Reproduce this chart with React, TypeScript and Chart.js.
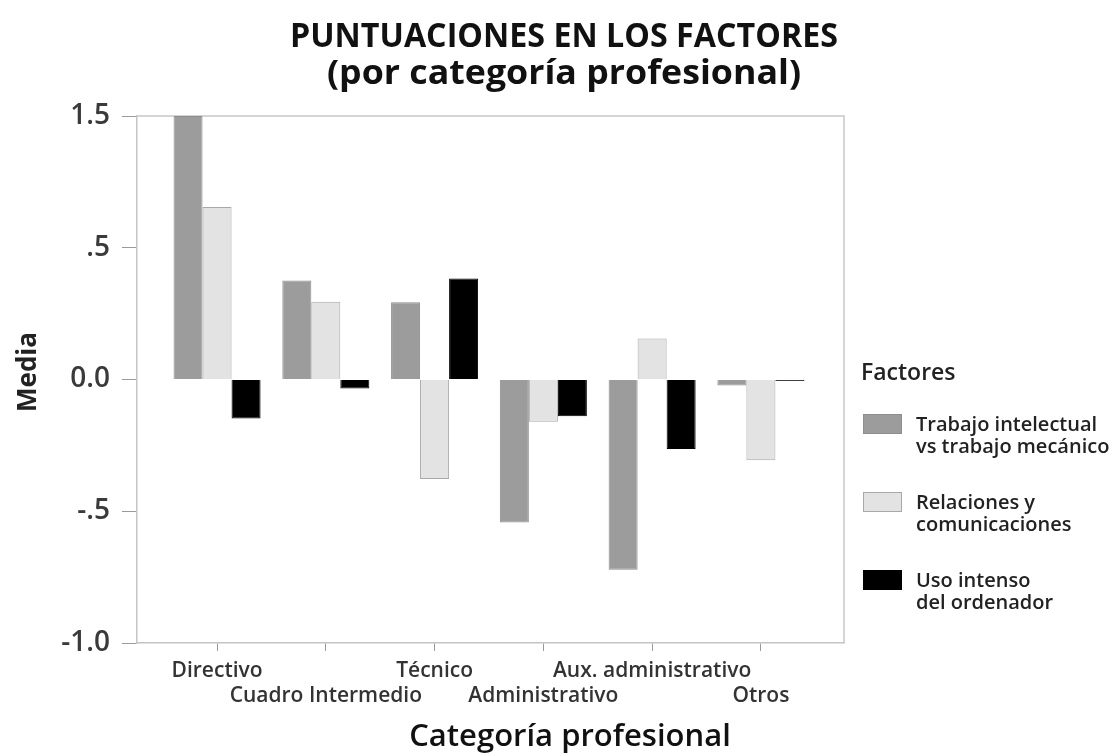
import React, { useEffect, useRef } from "react";
import { Chart, registerables } from "chart.js";

Chart.register(...registerables);

// ---- Data ----
const categories = [
  "Directivo",
  "Cuadro Intermedio",
  "Técnico",
  "Administrativo",
  "Aux. administrativo",
  "Otros",
];
const trabajoIntelectual = [1.0, 0.376, 0.293, -0.543, -0.722, -0.023];
const relacionesComunicaciones = [0.655, 0.295, -0.378, -0.16, 0.156, -0.306];
const usoOrdenador = [-0.148, -0.034, 0.383, -0.139, -0.264, -0.006];

const seriesLabels = [
  ["Trabajo intelectual", "vs trabajo mecánico"],
  ["Relaciones y", "comunicaciones"],
  ["Uso intenso", "del ordenador"],
];
const seriesColors = ["#9c9c9c", "#e3e3e3", "#000000"];
const seriesBorders = ["#8e8e8e", "#a8a8a8", "#000000"];

const yTickValues = [-1, -0.5, 0, 0.5, 1];
const yTickLabels = ["-1.0", "-.5", "0.0", ".5", "1.5"];

const titleLines = ["PUNTUACIONES EN LOS FACTORES", "(por categoría profesional)"];
const legendTitle = "Factores";
const xAxisTitle = "Categoría profesional";
const yAxisTitle = "Media";

const FONT = "'Open Sans', 'Noto Sans', sans-serif";

const textPlugin = {
  id: "customTexts",
  afterDraw(chart: any) {
    const ctx = chart.ctx;
    ctx.save();
    // chart title (condensed)
    ctx.fillStyle = "#111";
    ctx.textAlign = "center";
    ctx.textBaseline = "alphabetic";
    ctx.font = `700 34px ${FONT}`;
    const targets = [548, 474];
    const baselines = [47, 84];
    titleLines.forEach((line, i) => {
      const w = ctx.measureText(line).width;
      const sx = targets[i] / w;
      ctx.save();
      ctx.translate(564, baselines[i]);
      ctx.scale(sx, 1);
      ctx.fillText(line, 0, 0);
      ctx.restore();
    });
    // x axis title
    ctx.font = `600 31px ${FONT}`;
    ctx.fillStyle = "#111";
    ctx.textBaseline = "alphabetic";
    ctx.fillText(xAxisTitle, 570, 746);
    // y axis title
    ctx.save();
    ctx.translate(36, 372);
    ctx.rotate(-Math.PI / 2);
    ctx.font = `700 26px ${FONT}`;
    ctx.fillStyle = "#222";
    ctx.textBaseline = "alphabetic";
    ctx.fillText(yAxisTitle, 0, 0);
    ctx.restore();
    ctx.restore();
  },
};

const framePlugin = {
  id: "frame",
  beforeDatasetsDraw(chart: any) {
    const { ctx, chartArea } = chart;
    ctx.save();
    ctx.strokeStyle = "#c8c8c8";
    ctx.lineWidth = 1.5;
    ctx.beginPath();
    ctx.moveTo(chartArea.left, chartArea.top);
    ctx.lineTo(chartArea.right, chartArea.top);
    ctx.lineTo(chartArea.right, chartArea.bottom);
    ctx.stroke();
    ctx.restore();
  },
};

const legendPlugin = {
  id: "customLegend",
  afterDraw(chart: any) {
    const ctx = chart.ctx;
    const x0 = 863;
    ctx.save();
    ctx.fillStyle = "#222";
    ctx.textAlign = "left";
    ctx.textBaseline = "middle";
    ctx.font = `600 23px ${FONT}`;
    ctx.fillText(legendTitle, 861, 373);
    chart.data.datasets.forEach((ds: any, i: number) => {
      const top = 414 + i * 78;
      ctx.fillStyle = ds.backgroundColor;
      ctx.fillRect(x0, top, 39, 20);
      ctx.strokeStyle = ds.borderColor;
      ctx.lineWidth = 1;
      ctx.strokeRect(x0 + 0.5, top + 0.5, 38, 19);
      ctx.fillStyle = "#222";
      ctx.font = `600 20px ${FONT}`;
      const lines = seriesLabels[i];
      lines.forEach((ln, j) => {
        ctx.fillText(ln, 916, top + 11 + j * 22);
      });
    });
    ctx.restore();
  },
};

export default function App() {
  const ref = useRef<HTMLCanvasElement | null>(null);

  useEffect(() => {
    document.body.style.margin = "0";
    if (!ref.current) return;
    const seriesValues = [trabajoIntelectual, relacionesComunicaciones, usoOrdenador];
    const chart = new Chart(ref.current, {
      type: "bar",
      data: {
        datasets: seriesValues.map((vals, i) => ({
          label: seriesLabels[i].join(" "),
          data: vals.map((v, k) => ({ x: k, y: v })),
          backgroundColor: seriesColors[i],
          borderColor: seriesBorders[i],
          borderWidth: 1,
          categoryPercentage: 0.8,
          barPercentage: 1.0,
        })),
      },
      options: {
        animation: false,
        responsive: false,
        maintainAspectRatio: false,
        layout: { padding: { top: 116, right: 272, bottom: 0, left: 0 } },
        plugins: {
          legend: { display: false },
          title: { display: false },
          tooltip: { enabled: false },
        },
        scales: {
          x: {
            type: "linear",
            min: -0.736,
            max: 5.764,
            offset: false,
            afterBuildTicks: (scale: any) => {
              scale.ticks = categories.map((_, i) => ({ value: i }));
            },
            afterFit: (scale: any) => {
              scale.height = 113;
            },
            grid: {
              display: true,
              offset: false,
              drawOnChartArea: false,
              drawTicks: true,
              tickLength: 8,
              color: "#9a9a9a",
            },
            border: { display: true, color: "#c4c4c4", width: 1.5 },
            ticks: {
              autoSkip: false,
              maxRotation: 0,
              minRotation: 0,
              padding: 7,
              color: "#333",
              font: { family: FONT, size: 21, weight: "600" },
              callback: (value: any) => {
                const i = Math.round(Number(value));
                const lab = categories[i] ?? "";
                return i % 2 === 0 ? [lab, ""] : ["", lab];
              },
            },
            title: { display: false },
          },
          y: {
            min: -1,
            max: 1,
            afterBuildTicks: (scale: any) => {
              scale.ticks = yTickValues.map((v) => ({ value: v }));
            },
            afterFit: (scale: any) => {
              scale.width = 137;
            },
            grid: {
              display: true,
              drawOnChartArea: false,
              drawTicks: true,
              tickLength: 15,
              color: "#9a9a9a",
            },
            border: { display: true, color: "#c4c4c4", width: 1.5 },
            ticks: {
              padding: 12,
              color: "#3a3a3a",
              font: { family: FONT, size: 28, weight: "600" },
              callback: (value: any) => {
                const idx = yTickValues.indexOf(Number(value));
                return idx >= 0 ? yTickLabels[idx] : "";
              },
            },
            title: { display: false },
          },
        },
      },
      plugins: [framePlugin, textPlugin, legendPlugin],
    });
    return () => chart.destroy();
  }, []);

  return (
    <div style={{ position: "absolute", left: 0, top: 0, width: 1116, height: 756, background: "#fff" }}>
      <canvas ref={ref} width={1116} height={756} style={{ width: 1116, height: 756, display: "block" }} />
    </div>
  );
}
